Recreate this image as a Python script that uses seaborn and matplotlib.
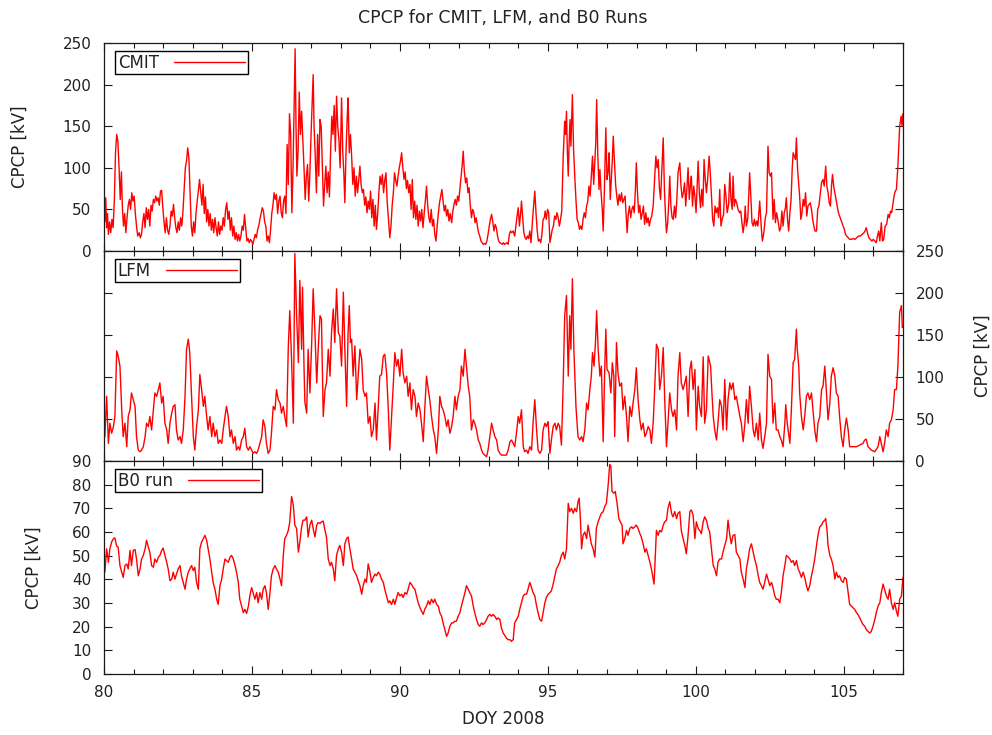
import matplotlib
matplotlib.use("Agg")
import matplotlib.pyplot as plt
import numpy as np
import pandas as pd
import seaborn as sns
from matplotlib.ticker import MultipleLocator

# ---------------------------------------------------------------- data
title_text = "CPCP for CMIT, LFM, and B0 Runs"
x_label = "DOY 2008"
y_label = "CPCP [kV]"
series_names = ["CMIT", "LFM", "B0 run"]
x_ticks = [80, 85, 90, 95, 100, 105]
kv_ticks_big = [0, 50, 100, 150, 200, 250]
kv_ticks_b0 = [0, 10, 20, 30, 40, 50, 60, 70, 80, 90]

cmit_day = [
    80.00, 80.03, 80.06, 80.09, 80.12, 80.15, 80.19, 80.23, 80.27, 80.31,
    80.35, 80.39, 80.43, 80.47, 80.51, 80.55, 80.59, 80.62, 80.66, 80.70,
    80.74, 80.78, 80.82, 80.86, 80.90, 80.94, 80.98, 81.02, 81.06, 81.10,
    81.14, 81.19, 81.23, 81.27, 81.31, 81.35, 81.39, 81.43, 81.47, 81.51,
    81.55, 81.59, 81.63, 81.67, 81.71, 81.75, 81.79, 81.83, 81.87, 81.91,
    81.95, 81.99, 82.03, 82.07, 82.11, 82.15, 82.19, 82.23, 82.27, 82.31,
    82.35, 82.39, 82.43, 82.47, 82.51, 82.55, 82.59, 82.63, 82.67, 82.71,
    82.75, 82.79, 82.83, 82.87, 82.91, 82.95, 82.99, 83.03, 83.07, 83.11,
    83.15, 83.19, 83.23, 83.27, 83.31, 83.35, 83.39, 83.43, 83.47, 83.51,
    83.55, 83.59, 83.63, 83.67, 83.71, 83.75, 83.79, 83.83, 83.87, 83.91,
    83.95, 83.99, 84.03, 84.07, 84.11, 84.15, 84.19, 84.23, 84.27, 84.31,
    84.35, 84.39, 84.43, 84.47, 84.51, 84.55, 84.59, 84.63, 84.67, 84.71,
    84.75, 84.79, 84.83, 84.87, 84.91, 84.95, 84.99, 85.03, 85.07, 85.11,
    85.15, 85.19, 85.23, 85.27, 85.31, 85.35, 85.39, 85.43, 85.47, 85.51,
    85.55, 85.59, 85.63, 85.67, 85.71, 85.75, 85.79, 85.83, 85.87, 85.91,
    85.95, 85.99, 86.03, 86.07, 86.11, 86.15, 86.19, 86.23, 86.27, 86.31,
    86.35, 86.39, 86.43, 86.46, 86.49, 86.52, 86.56, 86.60, 86.64, 86.68,
    86.72, 86.76, 86.80, 86.84, 86.88,
    86.92, 86.96, 87.00, 87.04, 87.07, 87.10, 87.14, 87.18, 87.22, 87.26,
    87.30, 87.34, 87.38, 87.42, 87.46, 87.50, 87.54, 87.58, 87.62, 87.66,
    87.70, 87.74, 87.78, 87.82, 87.86, 87.90, 87.94, 87.98, 88.03, 88.07,
    88.11, 88.14, 88.18, 88.22, 88.25, 88.29, 88.33, 88.37, 88.41, 88.45,
    88.49, 88.53, 88.57, 88.61, 88.65, 88.69, 88.73, 88.77, 88.81, 88.85,
    88.89, 88.93, 88.97, 89.01, 89.05, 89.09, 89.13, 89.17, 89.21, 89.25,
    89.29, 89.33, 89.37, 89.41, 89.45, 89.49, 89.53, 89.57, 89.61, 89.66,
    89.70, 89.74, 89.78, 89.82, 89.86, 89.90, 89.94, 89.98, 90.02, 90.06,
    90.10, 90.14, 90.18, 90.22, 90.26, 90.30, 90.34, 90.38, 90.42, 90.46,
    90.50, 90.54, 90.58, 90.62, 90.66, 90.70, 90.74, 90.78, 90.82, 90.86,
    90.90, 90.94, 90.98, 91.02, 91.06, 91.10, 91.14, 91.18, 91.22, 91.26,
    91.30, 91.34, 91.38, 91.42, 91.46, 91.50, 91.54, 91.58, 91.62, 91.66,
    91.70, 91.75, 91.79, 91.83, 91.87, 91.91, 91.95, 91.99, 92.03, 92.07,
    92.11, 92.14, 92.18, 92.22, 92.26, 92.30, 92.34, 92.38, 92.42, 92.46,
    92.50, 92.54, 92.58, 92.62, 92.66, 92.70, 92.74, 92.78, 92.82, 92.86,
    92.90, 92.94, 92.98, 93.02, 93.06, 93.10, 93.14, 93.18, 93.22, 93.26,
    93.30, 93.34, 93.38, 93.42, 93.46, 93.50, 93.54, 93.58, 93.62,
    93.66, 93.70, 93.74, 93.78, 93.83, 93.88, 93.92, 93.96, 94.00, 94.04,
    94.08, 94.11, 94.15, 94.19, 94.23, 94.27, 94.31, 94.35, 94.39, 94.43,
    94.47, 94.51, 94.56, 94.60, 94.64, 94.68, 94.72, 94.76, 94.80, 94.84,
    94.88, 94.91, 94.95, 94.99, 95.03, 95.07, 95.11, 95.15, 95.19, 95.23,
    95.27, 95.31, 95.35, 95.39, 95.43, 95.47, 95.52, 95.57, 95.60, 95.63,
    95.66, 95.69, 95.72, 95.75, 95.78, 95.83, 95.87, 95.91, 95.95, 95.99,
    96.03, 96.07, 96.11, 96.15, 96.19, 96.23, 96.27, 96.31, 96.35, 96.39,
    96.43, 96.47, 96.51, 96.55, 96.59, 96.62, 96.65, 96.69, 96.73, 96.76,
    96.80, 96.84, 96.87, 96.91, 96.96, 97.00, 97.04, 97.07, 97.11, 97.15,
    97.18, 97.21, 97.25, 97.29, 97.33, 97.37, 97.41, 97.45, 97.49, 97.53,
    97.57, 97.61, 97.65, 97.68, 97.72, 97.76, 97.80, 97.84, 97.88, 97.92,
    97.96, 97.99, 98.03, 98.07, 98.11, 98.15, 98.19, 98.23, 98.27, 98.31,
    98.35, 98.39, 98.43, 98.47, 98.51, 98.56, 98.60, 98.65, 98.69, 98.73,
    98.77, 98.81, 98.85, 98.90, 98.94, 98.98, 99.01, 99.05, 99.09, 99.12,
    99.16, 99.20, 99.24, 99.28, 99.32, 99.36, 99.40, 99.46, 99.50, 99.54,
    99.58, 99.62, 99.66, 99.70, 99.74, 99.78, 99.82, 99.85, 99.89, 99.93,
    99.97, 100.01, 100.05, 100.08,
    100.12, 100.16, 100.20, 100.24, 100.28, 100.32, 100.36, 100.40, 100.45, 100.49,
    100.53, 100.57, 100.61, 100.65, 100.69, 100.73, 100.77, 100.81, 100.85, 100.89,
    100.94, 100.98, 101.02, 101.06, 101.11, 101.15, 101.19, 101.23, 101.26, 101.30,
    101.34, 101.38, 101.43, 101.48, 101.52, 101.56, 101.60, 101.64, 101.67, 101.71,
    101.76, 101.82, 101.86, 101.90, 101.94, 101.98, 102.02, 102.06, 102.10, 102.16,
    102.21, 102.25, 102.30, 102.35, 102.39, 102.44, 102.48, 102.52, 102.56, 102.61,
    102.65, 102.69, 102.73, 102.78, 102.83, 102.87, 102.91, 102.95, 102.99, 103.03,
    103.06, 103.10, 103.14, 103.18, 103.22, 103.26, 103.29, 103.33, 103.37, 103.40,
    103.44, 103.48, 103.51, 103.55, 103.59, 103.63, 103.67, 103.71, 103.75, 103.79,
    103.83, 103.87, 103.91, 103.95, 103.99, 104.03, 104.08, 104.12, 104.16, 104.20,
    104.25, 104.30, 104.34, 104.39, 104.43, 104.47, 104.51, 104.55, 104.59, 104.62,
    104.66, 104.70, 104.74, 104.78, 104.82, 104.86, 104.90, 104.94, 104.98, 105.02,
    105.06, 105.10, 105.15, 105.20, 105.26, 105.32, 105.38, 105.44, 105.50, 105.56,
    105.62, 105.68, 105.72, 105.76, 105.80, 105.85, 105.90, 105.95, 106.00, 106.05,
    106.10, 106.14, 106.18, 106.22, 106.27, 106.31, 106.35, 106.40, 106.45, 106.50,
    106.54, 106.58, 106.62, 106.66, 106.70, 106.74, 106.78, 106.83, 106.89, 106.94,
    106.97, 107.00,
]
cmit_kv = [
    52, 35, 64, 28, 45, 20, 35, 22, 38, 28,
    60, 118, 140, 132, 100, 62, 95, 55, 30, 45,
    22, 40, 55, 62, 50, 70, 60, 66, 45, 30,
    18, 22, 16, 20, 35, 45, 28, 52, 38, 50,
    30, 55, 48, 62, 58, 66, 60, 64, 55, 72,
    73, 52, 35, 22, 40, 25, 20, 30, 48, 42,
    56, 40, 28, 22, 35, 25, 40, 30, 48, 75,
    100, 108, 124, 112, 70, 30, 18, 35, 22, 45,
    60, 72, 86, 70, 55, 80, 45, 65, 35, 50,
    30, 45, 25, 38, 22, 40, 28, 18, 35, 20,
    30, 25, 40, 30, 50, 58, 38, 48, 25, 40,
    18, 30, 14, 22, 12, 20, 12, 18, 30, 25,
    44, 28, 12, 15, 10, 14, 12, 8, 14, 20,
    16, 25, 30, 38, 45, 52, 48, 35, 30, 12,
    18, 10, 25, 45, 55, 70, 62, 68, 45, 60,
    66, 46, 40, 60, 66, 45, 128, 80, 165, 140,
    46, 100, 180, 243, 150, 90, 120, 191, 140, 168,
    134, 100, 62, 90, 104,
    60, 95, 142, 180, 212, 150, 114, 70, 140, 90,
    158, 150, 100, 54, 80, 102, 70, 95, 65, 120,
    162, 140, 175, 120, 186, 150, 134, 100, 184, 120,
    90, 58, 120, 160, 184, 118, 140, 114, 80, 100,
    66, 90, 70, 85, 102, 80, 70, 74, 55, 65,
    46, 60, 50, 72, 40, 62, 30, 55, 26, 45,
    70, 90, 80, 92, 70, 85, 94, 60, 40, 16,
    30, 55, 70, 94, 85, 78, 90, 100, 108, 118,
    100, 86, 95, 75, 85, 70, 80, 50, 86, 40,
    60, 38, 55, 30, 48, 36, 50, 28, 45, 60,
    78, 55, 40, 34, 50, 30, 38, 20, 12, 30,
    45, 58, 66, 74, 60, 48, 55, 42, 50, 36,
    45, 34, 48, 56, 62, 55, 66, 60, 75, 90,
    105, 120, 95, 82, 88, 70, 76, 55, 40, 50,
    46, 34, 40, 30, 22, 18, 12, 10, 8, 9,
    8, 12, 20, 30, 38, 44, 35, 24, 32, 28,
    18, 12, 10, 9, 8, 10, 8, 9, 10,
    8, 20, 24, 22, 24, 18, 30, 42, 52, 30,
    45, 60, 40, 22, 16, 14, 18, 15, 24, 10,
    30, 50, 72, 46, 25, 12, 14, 10, 20, 38,
    40, 48, 38, 50, 46, 10, 18, 26, 30, 42,
    38, 46, 40, 30, 38, 48, 114, 156, 140, 168,
    120, 90, 130, 158, 126, 188, 122, 90, 62, 38,
    34, 26, 30, 26, 38, 46, 40, 54, 60, 78,
    66, 90, 114, 80, 110, 130, 182, 114, 74, 98,
    70, 50, 24, 70, 148, 86, 96, 118, 62, 90,
    110, 138, 110, 80, 66, 55, 68, 60, 70, 58,
    62, 66, 40, 22, 45, 54, 40, 50, 54, 46,
    75, 106, 70, 46, 55, 38, 45, 54, 32, 46,
    34, 40, 30, 38, 42, 54, 80, 114, 100, 110,
    76, 62, 95, 136, 74, 40, 22, 34, 60, 90,
    54, 40, 38, 54, 40, 62, 94, 106, 78, 64,
    70, 82, 54, 75, 100, 62, 80, 90, 54, 78,
    66, 46, 80, 108,
    70, 52, 74, 54, 110, 86, 70, 86, 114, 94,
    66, 38, 30, 54, 46, 52, 40, 74, 30, 38,
    44, 80, 66, 46, 56, 94, 62, 50, 90, 54,
    62, 58, 50, 46, 48, 34, 22, 34, 54, 30,
    40, 94, 66, 34, 30, 38, 30, 36, 30, 60,
    30, 12, 22, 40, 46, 126, 94, 90, 94, 38,
    62, 34, 46, 36, 24, 28, 48, 30, 46, 52,
    64, 38, 24, 46, 62, 100, 118, 114, 110, 136,
    98, 80, 66, 38, 46, 62, 54, 70, 42, 54,
    56, 58, 50, 38, 30, 24, 24, 50, 54, 66,
    82, 86, 78, 102, 78, 70, 58, 54, 80, 92,
    78, 70, 62, 54, 46, 42, 38, 34, 30, 26,
    20, 18, 16, 14, 14, 15, 14, 16, 18, 18,
    20, 22, 24, 28, 22, 16, 14, 12, 14, 12,
    10, 18, 24, 12, 34, 12, 14, 30, 32, 44,
    40, 48, 46, 56, 66, 72, 74, 102, 150, 162,
    150, 165,
]

lfm_day = [
    80.00, 80.03, 80.09, 80.15, 80.20, 80.26, 80.32, 80.37, 80.43, 80.48,
    80.54, 80.60, 80.65, 80.71, 80.77, 80.82, 80.88, 80.93, 80.99, 81.05,
    81.10, 81.16, 81.22, 81.27, 81.33, 81.39, 81.44, 81.50, 81.55, 81.61,
    81.67, 81.72, 81.78, 81.84, 81.89, 81.95, 82.00, 82.06, 82.12, 82.17,
    82.23, 82.29, 82.34, 82.40, 82.45, 82.51, 82.57, 82.62, 82.68, 82.74,
    82.79, 82.85, 82.90, 82.96, 83.02, 83.07, 83.13, 83.19, 83.24, 83.30,
    83.36, 83.41, 83.47, 83.52, 83.58, 83.64, 83.69, 83.75, 83.81, 83.86,
    83.92, 83.98, 84.03, 84.09, 84.14, 84.20, 84.26, 84.31, 84.37, 84.43,
    84.48, 84.54, 84.59, 84.65, 84.71, 84.76, 84.82, 84.88, 84.93, 84.99,
    85.04, 85.10, 85.16, 85.21, 85.27, 85.33, 85.38, 85.44, 85.49, 85.55,
    85.61, 85.66, 85.72, 85.78, 85.83, 85.89, 85.95, 86.00, 86.06, 86.11,
    86.17, 86.23, 86.28, 86.34, 86.40, 86.45, 86.51, 86.57, 86.62, 86.68,
    86.71, 86.76, 86.79, 86.85,
    86.90, 86.96, 87.02, 87.07, 87.13, 87.19, 87.24, 87.30, 87.35, 87.41,
    87.47, 87.52, 87.58, 87.64, 87.69, 87.75, 87.80, 87.86, 87.92, 87.97,
    88.03, 88.09, 88.14, 88.20, 88.25, 88.29, 88.33, 88.37, 88.42, 88.48,
    88.54, 88.59, 88.65, 88.71, 88.76, 88.82, 88.87, 88.93, 88.99, 89.04,
    89.10, 89.16, 89.21, 89.27, 89.32, 89.38, 89.44, 89.49, 89.55, 89.61,
    89.66, 89.72, 89.78, 89.83, 89.89, 89.94, 90.00, 90.06, 90.11, 90.17,
    90.23, 90.28, 90.34, 90.39, 90.45, 90.51, 90.56, 90.62, 90.68, 90.73,
    90.79, 90.84, 90.90, 90.96, 91.01, 91.07, 91.13, 91.18, 91.24, 91.30,
    91.35, 91.41, 91.46, 91.52, 91.58, 91.63, 91.69, 91.75, 91.80, 91.86,
    91.91, 91.97, 92.03, 92.08, 92.14, 92.20, 92.25, 92.31, 92.36, 92.42,
    92.48, 92.53, 92.59, 92.65, 92.70, 92.76, 92.81, 92.87, 92.93, 92.98,
    93.04, 93.10, 93.15, 93.21, 93.27, 93.32, 93.38, 93.43, 93.49, 93.55,
    93.60, 93.66, 93.72,
    93.77, 93.83, 93.88, 93.94, 94.00, 94.05, 94.11, 94.17, 94.22, 94.28,
    94.33, 94.39, 94.45, 94.50, 94.56, 94.62, 94.67, 94.73, 94.79, 94.84,
    94.90, 94.95, 95.01, 95.07, 95.12, 95.18, 95.24, 95.29, 95.35, 95.40,
    95.46, 95.52, 95.57, 95.63, 95.69, 95.74, 95.78, 95.83, 95.88, 95.95,
    96.02, 96.08, 96.14, 96.19, 96.25, 96.31, 96.36, 96.42, 96.47, 96.51,
    96.56, 96.61, 96.65, 96.70, 96.76, 96.81, 96.87, 96.92, 96.96, 97.00,
    97.07, 97.13, 97.18, 97.23, 97.26, 97.32, 97.37, 97.43, 97.49, 97.54,
    97.60, 97.66, 97.71, 97.77, 97.83, 97.88, 97.94, 97.99, 98.05, 98.11,
    98.16, 98.22, 98.28, 98.33, 98.39, 98.45, 98.50, 98.56, 98.61, 98.67,
    98.73, 98.78, 98.84, 98.90, 98.95, 99.01, 99.06, 99.12, 99.18, 99.23,
    99.29, 99.35, 99.40, 99.46, 99.51, 99.57, 99.63, 99.68, 99.74, 99.80,
    99.85, 99.91, 99.97, 100.02, 100.08, 100.13, 100.19, 100.25, 100.30, 100.36,
    100.42,
    100.50, 100.54, 100.59, 100.64, 100.70, 100.75, 100.81, 100.87, 100.92, 100.98,
    101.04, 101.09, 101.15, 101.20, 101.26, 101.32, 101.37, 101.43, 101.49, 101.54,
    101.60, 101.66, 101.71, 101.77, 101.82, 101.88, 101.94, 101.99, 102.05, 102.11,
    102.16, 102.22, 102.27, 102.33, 102.39, 102.44, 102.50, 102.56, 102.61, 102.67,
    102.72, 102.78, 102.84, 102.89, 102.95, 103.01, 103.04, 103.09, 103.18, 103.23,
    103.29, 103.34, 103.40, 103.43, 103.48, 103.51, 103.57, 103.63, 103.68, 103.74,
    103.79, 103.85, 103.91, 103.96, 104.02, 104.08, 104.13, 104.19, 104.25, 104.30,
    104.36, 104.41, 104.47, 104.53, 104.58, 104.64, 104.70, 104.75, 104.81, 104.86,
    104.92, 104.98, 105.03, 105.09, 105.15, 105.20, 105.31, 105.43, 105.54, 105.65,
    105.71, 105.76, 105.82, 105.93, 106.05, 106.16, 106.22, 106.27, 106.33, 106.38,
    106.44, 106.50, 106.55, 106.61, 106.67, 106.72, 106.78, 106.83, 106.89, 106.95,
    106.98, 107.00,
]
lfm_kv = [
    57, 29, 77, 21, 45, 33, 41, 53, 131, 125,
    113, 61, 29, 45, 17, 53, 61, 81, 73, 65,
    29, 13, 11, 13, 17, 29, 45, 41, 53, 37,
    61, 81, 77, 85, 93, 69, 77, 45, 37, 21,
    45, 57, 65, 67, 37, 25, 29, 21, 37, 77,
    133, 145, 129, 77, 29, 13, 41, 61, 103, 85,
    65, 77, 53, 37, 53, 29, 45, 29, 37, 21,
    25, 21, 37, 53, 65, 53, 29, 37, 21, 29,
    13, 17, 13, 25, 29, 39, 17, 13, 17, 13,
    9, 11, 9, 13, 21, 29, 49, 41, 21, 9,
    13, 33, 65, 61, 85, 73, 69, 57, 65, 53,
    41, 137, 179, 121, 45, 247, 173, 117, 215, 133,
    207, 113, 70, 57,
    133, 81, 141, 205, 153, 93, 133, 173, 169, 53,
    85, 93, 133, 101, 153, 181, 141, 205, 153, 149,
    113, 201, 133, 65, 153, 185, 141, 145, 101, 137,
    73, 101, 133, 121, 85, 77, 81, 45, 53, 29,
    37, 69, 25, 65, 101, 103, 125, 127, 105, 61,
    13, 53, 93, 129, 113, 121, 101, 133, 105, 93,
    101, 77, 93, 61, 85, 77, 53, 69, 61, 45,
    23, 61, 101, 85, 73, 53, 37, 29, 9, 37,
    77, 65, 61, 53, 41, 49, 33, 41, 53, 77,
    61, 77, 85, 113, 101, 133, 113, 89, 77, 37,
    49, 45, 37, 25, 21, 13, 9, 7, 5, 13,
    29, 45, 37, 29, 25, 13, 9, 7, 7, 7,
    7, 13, 23,
    25, 21, 17, 33, 53, 45, 61, 17, 11, 13,
    9, 17, 13, 45, 73, 37, 13, 9, 13, 37,
    45, 41, 47, 9, 25, 41, 45, 37, 45, 41,
    19, 93, 173, 197, 101, 173, 133, 217, 133, 65,
    29, 25, 29, 23, 37, 69, 61, 85, 101, 129,
    113, 141, 179, 133, 101, 113, 23, 105, 157, 109,
    105, 81, 117, 101, 29, 141, 105, 89, 93, 61,
    77, 53, 23, 65, 53, 69, 85, 111, 73, 49,
    37, 45, 29, 33, 41, 37, 21, 45, 85, 139,
    133, 85, 101, 135, 73, 17, 45, 81, 61, 53,
    61, 37, 101, 129, 93, 85, 93, 101, 53, 109,
    119, 85, 109, 37, 89, 65, 53, 124, 45, 61,
    125,
    113, 85, 53, 37, 25, 45, 73, 65, 37, 97,
    37, 73, 93, 85, 93, 73, 77, 65, 53, 45,
    23, 45, 73, 45, 89, 65, 37, 29, 45, 25,
    57, 25, 15, 29, 45, 127, 101, 97, 45, 69,
    37, 37, 29, 25, 17, 45, 67, 45, 21, 61,
    117, 121, 157, 133, 113, 81, 53, 37, 53, 77,
    81, 73, 81, 61, 37, 23, 45, 53, 85, 89,
    113, 85, 49, 69, 101, 111, 101, 81, 77, 53,
    29, 17, 37, 51, 37, 17, 17, 17, 19, 21,
    25, 26, 17, 13, 11, 17, 29, 21, 11, 21,
    37, 29, 45, 49, 61, 85, 85, 113, 177, 185,
    159, 160,
]

b0_day = [
    80.00, 80.03, 80.09, 80.15, 80.20, 80.26, 80.32, 80.37, 80.43, 80.48,
    80.54, 80.60, 80.65, 80.71, 80.77, 80.82, 80.88, 80.93, 80.99, 81.05,
    81.10, 81.16, 81.22, 81.27, 81.33, 81.39, 81.44, 81.50, 81.55, 81.61,
    81.67, 81.72, 81.78, 81.84, 81.89, 81.95, 82.00, 82.06, 82.12, 82.17,
    82.23, 82.29, 82.34, 82.40, 82.45, 82.51, 82.57, 82.62, 82.68, 82.74,
    82.79, 82.85, 82.90, 82.96, 83.02, 83.07, 83.13, 83.19, 83.24, 83.30,
    83.36, 83.41, 83.47, 83.52, 83.58, 83.64, 83.69, 83.75, 83.81, 83.86,
    83.92, 83.98, 84.03, 84.09, 84.14, 84.20, 84.26, 84.31, 84.37, 84.43,
    84.48, 84.54, 84.59, 84.65, 84.71, 84.76, 84.82, 84.88, 84.93, 84.99,
    85.04, 85.10, 85.16, 85.21, 85.27, 85.33, 85.38, 85.44, 85.49, 85.55,
    85.61, 85.66, 85.72, 85.78, 85.83, 85.89, 85.95, 86.00, 86.06, 86.11,
    86.17, 86.23, 86.28, 86.34, 86.40, 86.45, 86.51, 86.57, 86.62, 86.68,
    86.73, 86.79, 86.85, 86.90, 86.96, 87.02, 87.07, 87.13, 87.19, 87.24,
    87.30, 87.35, 87.41, 87.47, 87.52, 87.58, 87.64, 87.69, 87.75, 87.80,
    87.86, 87.92, 87.97, 88.03, 88.09, 88.14, 88.20, 88.25, 88.31, 88.37,
    88.42, 88.48, 88.54, 88.59, 88.65, 88.71, 88.76, 88.82, 88.87, 88.93,
    88.99, 89.04, 89.10, 89.16, 89.21, 89.27, 89.32, 89.38, 89.44, 89.49,
    89.55, 89.61, 89.66, 89.72, 89.78, 89.83, 89.89, 89.94, 90.00, 90.06,
    90.11, 90.17, 90.23, 90.28, 90.34, 90.39, 90.45, 90.51, 90.56, 90.62,
    90.68, 90.73, 90.79, 90.84, 90.90, 90.96, 91.01, 91.07, 91.13, 91.18,
    91.24, 91.30, 91.35, 91.41, 91.46, 91.52, 91.58, 91.63, 91.69, 91.75,
    91.80, 91.86, 91.91, 91.97, 92.03, 92.08, 92.14, 92.20, 92.25, 92.31,
    92.36, 92.42, 92.48, 92.53, 92.59, 92.65, 92.70, 92.76, 92.81, 92.87,
    92.93, 92.98, 93.04, 93.10, 93.15, 93.21, 93.27, 93.32, 93.38, 93.43,
    93.49, 93.55, 93.60, 93.66, 93.72, 93.77, 93.83, 93.88, 93.94, 94.00,
    94.05, 94.11, 94.17, 94.22, 94.28, 94.33, 94.39, 94.45, 94.50, 94.56,
    94.62, 94.67, 94.73, 94.79, 94.84, 94.90, 94.95, 95.01, 95.07, 95.12,
    95.18, 95.24, 95.29, 95.35, 95.40, 95.46, 95.52, 95.57, 95.63, 95.69,
    95.74, 95.80, 95.86, 95.91, 95.97, 96.02, 96.06, 96.10, 96.14, 96.19,
    96.25, 96.31, 96.36, 96.42, 96.47, 96.53, 96.59, 96.64, 96.70, 96.76,
    96.81, 96.87, 96.92, 96.98, 97.04, 97.09, 97.13, 97.17, 97.23, 97.28,
    97.34, 97.40, 97.45, 97.51, 97.54, 97.60, 97.66, 97.71, 97.77, 97.83,
    97.88, 97.94, 97.99, 98.05, 98.11, 98.16, 98.22, 98.28, 98.33, 98.39,
    98.45, 98.50, 98.56, 98.59, 98.65, 98.67, 98.73, 98.78, 98.84, 98.90,
    98.95, 99.01, 99.06, 99.12, 99.18, 99.23, 99.29, 99.35, 99.40, 99.46,
    99.51, 99.57, 99.63, 99.68, 99.74, 99.80, 99.85, 99.91, 99.97, 100.02,
    100.08, 100.13, 100.19, 100.25, 100.30, 100.36, 100.42, 100.47, 100.53, 100.59,
    100.64, 100.70, 100.75, 100.81, 100.87, 100.92, 100.98, 101.04, 101.09, 101.15,
    101.20, 101.26, 101.32, 101.37, 101.43, 101.49, 101.54, 101.60, 101.66, 101.71,
    101.77, 101.82, 101.88, 101.94, 101.99, 102.05, 102.11, 102.16, 102.22, 102.27,
    102.33, 102.39, 102.44, 102.50, 102.56, 102.61, 102.67, 102.72, 102.78, 102.84,
    102.89, 102.95, 103.01, 103.06, 103.12, 103.18, 103.23, 103.29, 103.34, 103.40,
    103.46, 103.51, 103.57, 103.63, 103.68, 103.74, 103.79, 103.85, 103.91, 103.96,
    104.02, 104.08, 104.13, 104.19, 104.25, 104.30, 104.36, 104.39, 104.44, 104.47,
    104.53, 104.58, 104.64, 104.70, 104.75, 104.81, 104.86, 104.92, 104.98, 105.03,
    105.09, 105.15, 105.20, 105.26, 105.31, 105.37, 105.43, 105.48, 105.54, 105.60,
    105.65, 105.71, 105.76, 105.82, 105.88, 105.93, 105.99, 106.05, 106.10, 106.16,
    106.22, 106.27, 106.33, 106.38, 106.44, 106.50, 106.55, 106.61, 106.67, 106.72,
    106.78, 106.83, 106.89, 106.95, 107.00,
]
b0_kv = [
    48.6, 43.0, 52.9, 47.2, 52.9, 55.8, 57.2, 57.5, 54.0, 53.6,
    45.8, 43.0, 40.8, 45.8, 46.5, 44.4, 52.2, 45.8, 52.2, 52.6,
    48.6, 41.5, 44.4, 48.6, 50.1, 52.9, 56.5, 53.6, 51.5, 45.8,
    45.1, 48.6, 47.2, 49.4, 50.1, 52.2, 53.2, 50.1, 47.2, 44.4,
    39.4, 40.1, 43.0, 40.1, 42.2, 44.4, 45.8, 41.5, 38.7, 35.8,
    40.1, 43.0, 44.4, 45.8, 43.7, 45.1, 38.7, 35.8, 52.9, 55.8,
    57.2, 58.6, 56.5, 52.9, 48.6, 43.0, 38.7, 35.8, 31.6, 29.4,
    37.3, 40.1, 44.4, 48.6, 47.9, 47.2, 49.4, 50.1, 48.6, 45.8,
    43.0, 38.7, 31.6, 28.7, 25.9, 27.3, 25.6, 28.7, 33.0, 36.5,
    34.4, 31.6, 34.4, 30.1, 34.4, 31.6, 35.8, 37.3, 34.4, 27.3,
    34.4, 41.5, 44.4, 45.8, 44.4, 43.0, 40.1, 37.3, 50.1, 57.2,
    58.6, 60.7, 64.3, 75.0, 71.4, 62.9, 61.5, 51.5, 55.8, 62.2,
    65.0, 65.0, 66.4, 57.9, 62.9, 65.0, 61.5, 57.9, 62.9, 64.0,
    63.6, 64.3, 64.6, 60.7, 57.9, 48.6, 45.8, 47.2, 44.4, 39.4,
    50.1, 52.9, 54.3, 51.5, 45.8, 55.0, 57.2, 57.9, 52.9, 48.6,
    44.4, 43.0, 41.5, 39.4, 37.3, 33.7, 37.3, 40.1, 38.7, 46.5,
    43.0, 38.7, 40.8, 42.2, 41.5, 43.0, 42.2, 40.1, 38.7, 35.8,
    33.0, 30.1, 30.9, 29.4, 31.6, 29.4, 32.3, 34.4, 33.0, 33.7,
    32.3, 34.4, 33.7, 35.8, 38.7, 38.0, 36.5, 35.8, 33.0, 30.1,
    28.0, 26.6, 25.2, 27.3, 28.7, 30.9, 29.4, 31.6, 30.1, 31.6,
    29.4, 28.7, 25.9, 24.4, 21.6, 18.8, 15.9, 17.3, 20.2, 21.6,
    21.6, 22.3, 22.3, 24.4, 25.9, 28.7, 31.6, 34.4, 37.3, 35.8,
    34.4, 33.0, 28.7, 25.9, 23.0, 20.9, 20.2, 21.6, 20.9, 21.6,
    23.0, 24.4, 25.2, 24.4, 25.2, 24.4, 23.0, 23.7, 23.0, 19.5,
    17.3, 16.2, 15.2, 14.5, 14.5, 13.8, 14.5, 21.6, 23.0, 24.4,
    27.3, 30.1, 33.0, 33.7, 33.7, 35.8, 38.7, 36.5, 34.4, 33.0,
    28.7, 25.9, 23.0, 22.3, 25.9, 30.1, 32.3, 33.7, 34.4, 35.1,
    38.0, 41.5, 44.4, 45.8, 47.2, 50.1, 51.5, 48.6, 52.9, 72.1,
    68.6, 70.0, 67.9, 70.0, 68.6, 72.8, 74.3, 65.7, 52.9, 58.6,
    60.0, 57.2, 62.9, 58.6, 55.0, 52.9, 49.4, 61.5, 64.3, 66.4,
    67.9, 68.6, 70.7, 72.1, 80.0, 88.5, 87.8, 77.1, 76.4, 77.1,
    72.1, 65.7, 64.3, 62.9, 55.0, 57.2, 60.7, 58.6, 61.5, 62.2,
    61.5, 62.2, 62.9, 61.5, 59.3, 57.9, 55.0, 51.5, 52.9, 50.1,
    47.2, 44.4, 40.1, 38.0, 54.3, 60.7, 58.6, 60.7, 60.0, 62.9,
    64.3, 65.0, 70.0, 72.8, 67.9, 66.4, 68.6, 65.7, 67.9, 68.6,
    60.7, 57.2, 54.3, 50.8, 58.6, 68.6, 69.3, 67.1, 57.2, 64.3,
    61.5, 60.7, 59.3, 64.3, 66.4, 65.0, 61.5, 60.0, 52.9, 45.8,
    44.4, 41.5, 47.2, 48.6, 48.6, 51.5, 54.3, 57.2, 65.0, 58.6,
    55.0, 58.6, 58.9, 51.5, 50.1, 48.6, 43.0, 40.1, 36.5, 44.4,
    48.6, 52.9, 55.0, 51.5, 48.6, 45.8, 41.5, 38.7, 37.3, 35.8,
    38.7, 42.2, 40.1, 37.3, 38.7, 36.5, 33.0, 31.6, 31.6, 30.1,
    34.4, 41.5, 45.8, 50.1, 49.4, 48.6, 47.2, 47.9, 45.8, 47.9,
    44.4, 43.0, 40.8, 43.0, 40.8, 37.3, 35.1, 37.3, 41.5, 44.4,
    48.6, 54.3, 58.6, 62.2, 62.9, 64.3, 65.0, 65.7, 60.0, 54.3,
    50.1, 48.6, 45.8, 40.1, 43.0, 40.8, 41.5, 39.4, 38.7, 40.8,
    40.1, 34.4, 29.4, 28.7, 28.0, 27.3, 25.9, 25.2, 23.7, 22.3,
    20.9, 20.2, 18.8, 18.0, 17.3, 18.0, 20.2, 23.0, 25.9, 28.7,
    30.1, 34.4, 38.0, 35.8, 33.0, 31.6, 35.8, 30.1, 27.3, 30.1,
    26.6, 24.4, 31.6, 33.0, 40.8,
]

# ---------------------------------------------------------------- style
sns.set_style("ticks")
plt.rcParams["font.family"] = ["DejaVu Sans"]
TEXT = "#222222"
RED = "#ff0000"
plt.rcParams.update({
    "axes.edgecolor": "#1a1a1a",
    "axes.linewidth": 0.9,
    "text.color": TEXT,
    "axes.labelcolor": TEXT,
    "xtick.color": "#1a1a1a",
    "ytick.color": "#1a1a1a",
    "xtick.labelcolor": TEXT,
    "ytick.labelcolor": TEXT,
})

fig = plt.figure(figsize=(9.92, 7.35), dpi=100)
left, width = 0.1048, 0.8054
ax_cmit = fig.add_axes([left, 0.6585, width, 0.2830])
ax_lfm = fig.add_axes([left, 0.3728, width, 0.2857])
ax_b0 = fig.add_axes([left, 0.0830, width, 0.2898])

panels = [
    (ax_cmit, cmit_day, cmit_kv, series_names[0], (0, 250), kv_ticks_big),
    (ax_lfm, lfm_day, lfm_kv, series_names[1], (0, 250), kv_ticks_big),
    (ax_b0, b0_day, b0_kv, series_names[2], (0, 90), kv_ticks_b0),
]

for ax, days, kv, name, ylim, yticks in panels:
    frame = pd.DataFrame({"doy": days, "cpcp": kv})
    sns.lineplot(data=frame, x="doy", y="cpcp", ax=ax, color=RED,
                 linewidth=1.0, estimator=None, sort=False, label=name)
    ax.set_xlim(80, 107)
    ax.set_ylim(*ylim)
    ax.set_xticks(x_ticks)
    ax.xaxis.set_minor_locator(MultipleLocator(1))
    ax.set_yticks(yticks)
    ax.tick_params(axis="both", which="both", direction="in",
                   top=True, right=True, bottom=True, left=True, width=0.8)
    ax.tick_params(axis="both", which="major", length=6)
    ax.tick_params(axis="both", which="minor", length=3.5)
    ax.tick_params(axis="y", which="major", labelsize=11, pad=9)
    ax.tick_params(axis="x", which="major", labelsize=11, pad=8)
    ax.set_xlabel("")
    ax.set_ylabel("")
    leg = ax.legend(loc="upper left", bbox_to_anchor=(0.0138, 0.962),
                    borderaxespad=0, markerfirst=False, handlelength=4.3,
                    handletextpad=0.9, borderpad=0.16, fancybox=False,
                    framealpha=1, edgecolor="black", fontsize=12)
    leg.get_frame().set_linewidth(1.0)
    for line in leg.get_lines():
        line.set_linewidth(1.0)

# top panel: labels on the left only, no x labels
ax_cmit.tick_params(axis="x", labelbottom=False)
ax_cmit.set_ylabel(y_label, fontsize=12, va="center")
ax_cmit.yaxis.set_label_coords(-0.105, 0.5)

# middle panel: kV scale on the right side
ax_lfm.tick_params(axis="x", labelbottom=False)
ax_lfm.tick_params(axis="y", labelleft=False, labelright=True)
ax_lfm.yaxis.set_label_position("right")
ax_lfm.set_ylabel(y_label, fontsize=12, rotation=90, va="center")
ax_lfm.yaxis.set_label_coords(1.100, 0.5)

# bottom panel: day axis and its own kV scale
ax_b0.set_ylabel(y_label, fontsize=12, va="center")
ax_b0.yaxis.set_label_coords(-0.088, 0.5)
ax_b0.set_xlabel(x_label, fontsize=12)
ax_b0.xaxis.set_label_coords(0.5, -0.17)

fig.text(0.507, 1 - 18 / 735, title_text, ha="center", va="center",
         fontsize=12.5, color=TEXT)

fig.savefig("out.png", dpi=100, facecolor="white")
